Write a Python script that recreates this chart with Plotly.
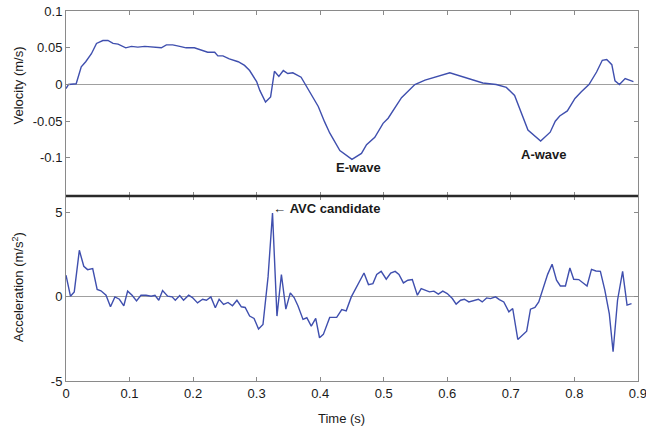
import plotly.graph_objects as go
from plotly.subplots import make_subplots

# Velocity trace (time in s, velocity in m/s)
t_vel = [0, 0.004, 0.016, 0.02, 0.024, 0.031, 0.040, 0.048, 0.058, 0.066, 0.074, 0.082,
         0.094, 0.103, 0.113, 0.124, 0.147, 0.150, 0.158, 0.168, 0.179, 0.189, 0.202,
         0.213, 0.223, 0.234, 0.239, 0.247, 0.257, 0.271, 0.281, 0.289, 0.300, 0.305,
         0.314, 0.322, 0.328, 0.335, 0.342, 0.349, 0.357, 0.370, 0.384, 0.397, 0.407,
         0.415, 0.431, 0.450, 0.465, 0.473, 0.486, 0.499, 0.507, 0.528, 0.549, 0.565,
         0.604, 0.656, 0.677, 0.693, 0.706, 0.727, 0.747, 0.762, 0.770, 0.777, 0.789,
         0.801, 0.811, 0.823, 0.835, 0.844, 0.851, 0.859, 0.864, 0.871, 0.880, 0.886, 0.893]
vel = [-0.0055, 0.0, 0.001, 0.011, 0.024, 0.031, 0.042, 0.056, 0.060, 0.060, 0.056, 0.055,
       0.050, 0.052, 0.051, 0.052, 0.051, 0.050, 0.054, 0.054, 0.052, 0.050, 0.050,
       0.047, 0.044, 0.044, 0.039, 0.039, 0.035, 0.031, 0.026, 0.019, 0.004, -0.008,
       -0.024, -0.017, 0.018, 0.011, 0.019, 0.015, 0.016, 0.010, -0.010, -0.030, -0.051,
       -0.066, -0.090, -0.102, -0.094, -0.082, -0.072, -0.053, -0.046, -0.018, 0.0, 0.006,
       0.016, 0.002, 0.0, -0.004, -0.015, -0.062, -0.077, -0.065, -0.050, -0.043, -0.036,
       -0.019, -0.010, 0.0, 0.017, 0.033, 0.034, 0.027, 0.005, 0.0, 0.008, 0.006, 0.004]

# Acceleration trace (time in s, acceleration in m/s^2)
t_acc = [0, 0.007, 0.013, 0.021, 0.028, 0.034, 0.042, 0.049, 0.055, 0.063, 0.070, 0.077,
         0.084, 0.091, 0.097, 0.104, 0.111, 0.118, 0.126, 0.134, 0.140, 0.146, 0.152,
         0.160, 0.167, 0.172, 0.179, 0.185, 0.193, 0.199, 0.207, 0.215, 0.221, 0.228,
         0.235, 0.241, 0.248, 0.255, 0.262, 0.269, 0.276, 0.282, 0.289, 0.296, 0.303,
         0.310, 0.318, 0.325, 0.332, 0.339, 0.346, 0.353, 0.359, 0.365, 0.373, 0.379,
         0.386, 0.393, 0.399, 0.405, 0.415, 0.426, 0.434, 0.441, 0.449, 0.457, 0.469,
         0.476, 0.483, 0.489, 0.496, 0.504, 0.511, 0.518, 0.524, 0.531, 0.538, 0.545,
         0.553, 0.559, 0.566, 0.572, 0.579, 0.586, 0.593, 0.600, 0.608, 0.614, 0.621,
         0.627, 0.634, 0.642, 0.649, 0.655, 0.662, 0.668, 0.676, 0.682, 0.689, 0.697,
         0.703, 0.711, 0.718, 0.725, 0.731, 0.738, 0.744, 0.752, 0.758, 0.765, 0.772,
         0.778, 0.786, 0.793, 0.799, 0.807, 0.814, 0.820, 0.827, 0.834, 0.841, 0.848,
         0.855, 0.861, 0.868, 0.876, 0.883, 0.890]
acc = [1.29, 0.04, 0.30, 2.77, 1.82, 1.62, 1.68, 0.44, 0.36, 0.10, -0.59, 0.0,
       -0.14, -0.53, 0.34, 0.10, -0.24, 0.10, 0.10, 0.04, 0.10, -0.20, 0.38,
       0.04, 0.0, -0.20, 0.08, -0.20, 0.10, -0.04, -0.36, -0.14, -0.20, 0.0,
       -0.65, -0.14, -0.45, -0.33, -0.53, -0.20, -0.59, -0.63, -1.14, -1.28, -1.91,
       -1.64, 1.19, 4.98, -1.14, 1.33, -0.73, 0.24, -0.04, -0.53, -1.34, -1.24,
       -1.74, -1.28, -2.43, -2.23, -1.22, -1.22, -0.75, -0.83, 0.0, 0.59, 1.42,
       0.73, 0.79, 1.34, 1.52, 1.05, 1.42, 1.52, 1.34, 0.83, 0.99, 1.03,
       0.10, 0.49, 0.40, 0.30, 0.34, 0.16, 0.34, 0.20, -0.10, -0.43, -0.20,
       -0.14, -0.30, -0.20, -0.14, -0.30, -0.06, -0.10, 0.0, -0.16, -0.30, -0.89,
       -0.69, -2.53, -2.31, -2.04, -0.73, -0.63, -0.30, 0.69, 1.34, 1.94, 0.99,
       0.65, 0.65, 1.72, 1.05, 1.03, 0.83, 0.65, 1.64, 1.54, 1.52, 0.40,
       -0.99, -3.26, -0.20, 1.52, -0.49, -0.40]

x_ticks = [0, 0.1, 0.2, 0.3, 0.4, 0.5, 0.6, 0.7, 0.8, 0.9]
x_tick_text = ["0", "0.1", "0.2", "0.3", "0.4", "0.5", "0.6", "0.7", "0.8", "0.9"]
vel_ticks = [-0.1, -0.05, 0, 0.05, 0.1]
vel_tick_text = ["-0.1", "-0.05", "0", "0.05", "0.1"]
acc_ticks = [-5, 0, 5]
acc_tick_text = ["-5", "0", "5"]

LINE = "#3f4fae"
FRAME = "#8a8a8a"
FONT = "Liberation Sans, Arial, sans-serif"
TXT = "#1a1a1a"

fig = make_subplots(rows=2, cols=1, shared_xaxes=True, vertical_spacing=0)

fig.add_trace(go.Scatter(x=t_vel, y=vel, mode="lines",
                         line=dict(color=LINE, width=1.4), showlegend=False), row=1, col=1)
fig.add_trace(go.Scatter(x=t_acc, y=acc, mode="lines",
                         line=dict(color=LINE, width=1.4), showlegend=False), row=2, col=1)

axis_common = dict(showline=True, linecolor=FRAME, linewidth=1, mirror="ticks",
                   ticks="inside", ticklen=4, tickcolor=FRAME, showgrid=False,
                   automargin=False, ticklabeloverflow="allow",
                   tickfont=dict(family=FONT, size=13, color=TXT))

fig.update_xaxes(range=[0, 0.9002], tickvals=x_ticks, ticktext=x_tick_text,
                 zeroline=False, **axis_common)
fig.update_xaxes(showticklabels=False, row=1, col=1)
fig.update_yaxes(range=[-0.152, 0.1002], tickvals=vel_ticks, ticktext=vel_tick_text,
                 zeroline=True, zerolinecolor="#a0a0a0", zerolinewidth=1,
                 row=1, col=1, **axis_common)
fig.update_yaxes(range=[-5.002, 6], tickvals=acc_ticks, ticktext=acc_tick_text,
                 zeroline=True, zerolinecolor="#a0a0a0", zerolinewidth=1,
                 row=2, col=1, **axis_common)

fig.add_shape(type="line", xref="paper", yref="paper", x0=0, x1=1, y0=0.5, y1=0.5,
              line=dict(color="#2a2a2a", width=2.5))

ann_font = dict(family=FONT, size=13, color=TXT)
fig.add_annotation(x=0.461, y=-0.113, xref="x", yref="y", text="<b>E-wave</b>",
                   showarrow=False, font=ann_font)
fig.add_annotation(x=0.752, y=-0.096, xref="x", yref="y", text="<b>A-wave</b>",
                   showarrow=False, font=ann_font)
fig.add_annotation(x=0.322, y=5.26, xref="x2", yref="y2", text="\u2190 <b>AVC candidate</b>",
                   showarrow=False, xanchor="left", font=ann_font)

fig.add_annotation(x=(341 - 66) / 572, y=-0.1, xref="paper", yref="paper",
                   text="Time (s)", showarrow=False, font=ann_font,
                   xanchor="center", yanchor="middle")
fig.add_annotation(x=-(66 - 18) / 572, y=(381 - 85.5) / 370, xref="paper", yref="paper",
                   text="Velocity (m/s)", textangle=-90, showarrow=False, font=ann_font,
                   xanchor="center", yanchor="middle")
fig.add_annotation(x=-(66 - 18) / 572, y=(381 - 287) / 370, xref="paper", yref="paper",
                   text="Acceleration (m/s<sup>2</sup>)", textangle=-90, showarrow=False,
                   font=ann_font, xanchor="center", yanchor="middle")

fig.update_layout(width=646, height=426, margin=dict(l=66, r=8, t=11, b=45),
                  paper_bgcolor="white", plot_bgcolor="white",
                  font=dict(family=FONT, size=13, color=TXT))

fig.write_html("out.html")
